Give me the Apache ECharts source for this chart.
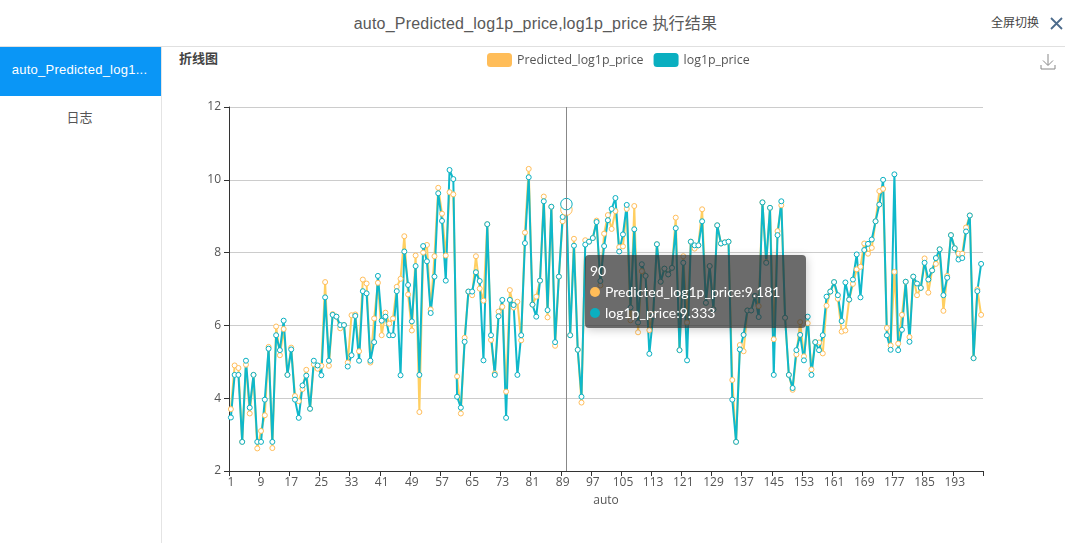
<!DOCTYPE html>
<html><head><meta charset="utf-8">
<style>
html,body{margin:0;padding:0;width:1065px;height:543px;overflow:hidden;background:#fff;font-family:"Liberation Sans",Arial,"Noto Sans CJK SC",sans-serif;}
#title{position:absolute;left:0;top:14px;width:1071px;text-align:center;font-size:16px;line-height:20px;color:#595959;letter-spacing:.2px;}
#hr{position:absolute;left:0;top:46px;width:1065px;height:1px;background:#e0e0e0;}
#side{position:absolute;left:161px;top:47px;width:1px;height:496px;background:#e4e4e4;}
#tab{position:absolute;left:0;top:47px;width:159px;padding-right:2px;height:49px;background:#0a96f6;color:#fff;font-size:13px;line-height:45px;text-align:center;letter-spacing:.25px;}
#log{position:absolute;left:0;top:108px;width:159px;text-align:center;font-size:13px;line-height:20px;color:#555;}
#sub{position:absolute;left:179px;top:50px;font-size:13px;font-weight:bold;line-height:18px;color:#444;}
#fs{position:absolute;left:991px;top:15px;font-size:12px;line-height:16px;color:#444;}
#x{position:absolute;left:1050px;top:17px;}
#dl{position:absolute;left:1040px;top:53px;}
#chart{position:absolute;left:0;top:0;width:1065px;height:543px;}
</style></head><body>
<div id="title">auto_Predicted_log1p_price,log1p_price 执行结果</div>
<div id="hr"></div><div id="side"></div>
<div id="tab">auto_Predicted_log1...</div>
<div id="log">日志</div>
<div id="sub">折线图</div>
<div id="fs">全屏切换</div>
<svg id="x" width="13" height="13" viewBox="0 0 13 13"><path d="M1 1L12 12M12 1L1 12" stroke="#4c6b8c" stroke-width="1.8" fill="none"/></svg>
<svg id="dl" width="16" height="17" viewBox="0 0 16 17"><path d="M8 1V12M3 7.5L8 12.5L13 7.5M1 12V16H15V12" stroke="#888" stroke-width="1" fill="none"/></svg>
<div id="chart"></div>
<script src="https://cdn.jsdelivr.net/npm/echarts@6/dist/echarts.min.js"></script>
<script>
const seriesNames = ['Predicted_log1p_price','log1p_price'];
const yTicks = [2,4,6,8,10,12];
const predicted = [3.70,4.90,4.83,2.80,4.92,3.58,4.64,2.62,3.10,3.53,5.41,2.63,5.97,5.18,5.90,4.64,5.39,4.06,3.92,4.25,
4.78,3.71,4.93,4.81,4.89,7.19,4.89,6.31,6.24,5.92,6.01,4.98,6.28,6.30,5.29,7.26,7.15,4.98,6.19,7.17,
5.73,6.35,6.05,6.19,7.06,7.28,8.45,6.85,5.86,7.92,3.62,8.00,8.21,6.44,7.90,9.78,9.07,7.92,9.66,9.60,
4.60,3.58,5.66,6.93,6.83,7.90,7.01,6.68,8.78,5.60,4.68,6.38,6.51,4.18,6.97,6.49,6.65,5.59,8.55,10.30,
6.57,6.79,7.23,9.54,6.22,9.26,5.44,7.34,8.86,9.181,5.73,8.38,5.33,3.88,8.34,8.30,8.40,8.88,7.10,8.52,
9.03,8.65,9.14,8.15,8.17,9.20,6.14,9.28,5.81,7.49,7.36,5.87,6.30,8.23,7.20,7.56,7.40,7.58,8.96,5.32,
7.90,6.08,8.30,8.11,8.20,9.19,6.62,7.63,6.44,8.75,8.25,8.28,8.30,4.50,2.80,5.46,5.29,6.41,6.41,6.81,
6.53,9.38,7.74,9.23,5.62,8.59,9.30,6.21,4.64,4.23,5.20,6.09,5.15,6.06,4.79,5.54,5.53,5.23,6.54,6.93,
7.19,6.73,5.83,5.86,6.71,7.14,7.54,7.61,8.25,7.97,8.13,8.86,9.69,9.75,5.93,5.45,7.47,5.50,6.29,7.20,
5.68,7.34,6.83,7.03,7.84,6.90,7.51,7.69,8.09,6.40,7.36,8.48,8.12,7.97,7.97,8.69,9.02,5.10,6.99,6.29];
const actual = [3.47,4.64,4.64,2.80,5.03,3.74,4.64,2.80,2.80,3.96,5.36,2.80,5.73,5.32,6.13,4.64,5.34,3.96,3.46,4.35,
4.62,3.71,5.03,4.90,4.63,6.77,5.03,6.29,6.24,6.01,6.01,4.87,5.18,6.26,5.03,6.94,6.88,5.03,5.54,7.36,
6.13,6.24,5.73,5.73,6.94,4.63,8.03,7.11,6.11,7.63,4.64,8.18,7.76,6.34,7.34,9.63,8.87,7.23,10.27,10.02,
4.04,3.74,5.55,6.93,6.93,7.46,7.22,5.04,8.78,5.73,4.64,6.25,6.70,3.46,6.70,6.56,4.64,5.73,8.26,10.07,
6.57,6.24,7.23,9.41,6.42,9.26,5.54,7.34,8.98,9.333,5.73,8.19,5.33,4.04,8.22,8.30,8.40,8.84,7.22,8.18,
8.89,9.20,9.50,8.03,8.50,9.31,6.49,8.64,6.08,7.68,7.36,5.22,6.26,8.23,7.20,7.56,7.40,7.58,8.67,5.32,
7.72,5.04,8.30,8.20,8.20,8.86,6.62,7.63,6.44,8.75,8.25,8.28,8.30,3.96,2.80,5.34,5.74,6.41,6.41,6.81,
6.23,9.38,7.72,9.23,4.64,8.48,9.41,6.21,4.64,4.28,5.32,5.74,5.04,6.24,4.64,5.54,5.32,5.73,6.79,6.93,
7.19,6.83,6.12,7.18,6.71,7.26,7.95,6.77,8.07,8.24,8.36,8.86,9.32,10.00,5.73,5.33,10.15,5.32,5.88,7.20,
5.55,7.34,7.15,7.03,7.72,7.26,7.51,7.85,8.09,6.83,7.31,8.48,8.12,7.81,7.85,8.58,9.02,5.10,6.94,7.69];
const categories = predicted.map((_, i) => String(i + 1));
const colors = ['#ffbd59','#0aafc0'];
const lineColors = ['#ffbd59','#0ea8b8'];
const chart = echarts.init(document.getElementById('chart'));
function makeSeries(i,values){
  const style={color:'#fff',borderColor:colors[i],borderWidth:1,opacity:1};
  return {name:seriesNames[i],type:'line',data:values,symbol:'circle',symbolSize:5,showAllSymbol:true,
    lineStyle:{width:2,color:lineColors[i]},itemStyle:style,
    emphasis:{scale:2.3,itemStyle:style}};
}
chart.setOption({
  animation:false,
  color:colors,
  textStyle:{fontFamily:'"Open Sans", "Liberation Sans", sans-serif'},
  legend:{top:48,left:482,itemWidth:25,itemHeight:14,itemGap:10,icon:'roundRect',
    data:seriesNames.map((n,i)=>({name:n,itemStyle:{color:colors[i],borderWidth:0}})),
    textStyle:{color:'#555',fontSize:12.4}},
  grid:{left:229,right:82,top:107,bottom:72,containLabel:false},
  tooltip:{trigger:'axis',alwaysShowContent:true,position:[585,255],
    backgroundColor:'rgba(50,50,50,0.72)',borderWidth:0,padding:[5,26,5,5],
    textStyle:{color:'#fff',fontSize:14,fontFamily:'Lato, "Liberation Sans", sans-serif'},
    axisPointer:{type:'line',lineStyle:{color:'#888',width:1,type:'solid'}},
    formatter:function(ps){
      let s='<div style="line-height:21px">'+ps[0].name+'</div>';
      ps.forEach(p=>{s+='<div style="line-height:21px"><span style="display:inline-block;width:10px;height:10px;border-radius:5px;margin-right:5px;background:'+colors[p.seriesIndex]+'"></span>'+p.seriesName+':'+p.value+'</div>';});
      return s;
    }},
  xAxis:{type:'category',data:categories,name:'auto',nameLocation:'middle',nameGap:24,
    nameTextStyle:{color:'#555',fontSize:12},
    axisLabel:{interval:7,color:'#555',fontSize:12,margin:6},
    axisTick:{show:true,interval:7,alignWithLabel:false,length:5,lineStyle:{color:'#333'}},
    axisLine:{lineStyle:{color:'#333'}}},
  yAxis:{type:'value',min:yTicks[0],max:yTicks[yTicks.length-1],interval:2,
    axisLabel:{color:'#555',fontSize:12},
    axisLine:{show:true,lineStyle:{color:'#333'}},
    axisTick:{show:true,lineStyle:{color:'#333'}},
    splitLine:{lineStyle:{color:'#ccc'}}},
  series:[makeSeries(0,predicted),makeSeries(1,actual)]
});
chart.dispatchAction({type:'showTip',seriesIndex:1,dataIndex:89});
</script>
</body></html>
